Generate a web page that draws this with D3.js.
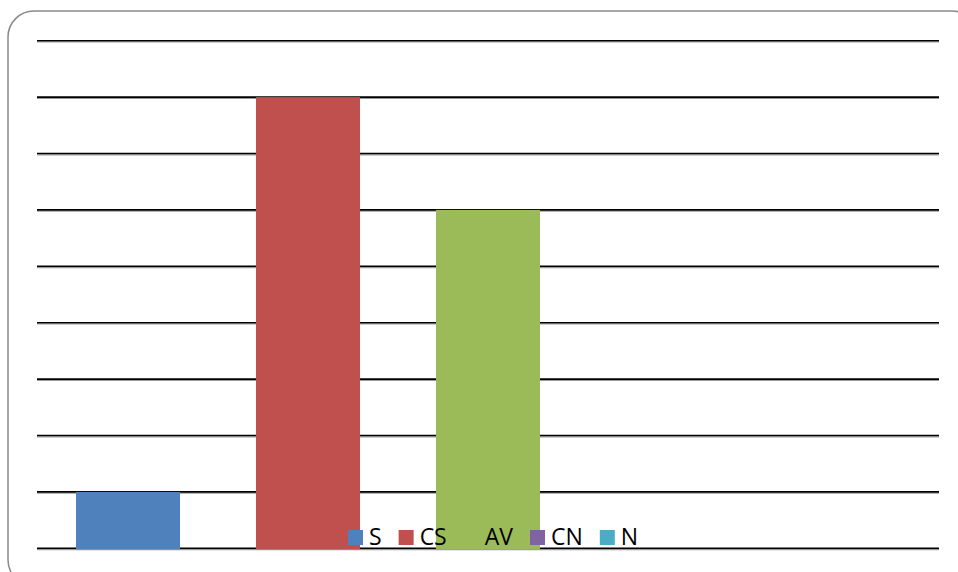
<!DOCTYPE html>
<html><head><meta charset="utf-8">
<script src="https://cdn.jsdelivr.net/npm/d3@7"></script>
<style>html,body{margin:0;padding:0;background:#fff;overflow:hidden}</style>
</head><body>
<svg id="c" width="958" height="572"></svg>
<script>
const categories = ["S", "CS", "AV", "CN", "N"];
const values = [1, 8, 6, 0, 0];
const colors = ["#4F81BD", "#C0504D", "#9BBB59", "#8064A2", "#4BACC6"];
const yTicks = [0, 1, 2, 3, 4, 5, 6, 7, 8, 9];

const svg = d3.select("#c");
svg.append("rect").attr("x", 8).attr("y", 11).attr("width", 970).attr("height", 575)
  .attr("rx", 26).attr("fill", "#fff").attr("stroke", "#8a8a8a").attr("stroke-width", 1.5);

const x = d3.scaleBand().domain(categories).range([38, 938]).paddingInner(0.422).paddingOuter(0.211);
const y = d3.scaleLinear().domain([0, 9]).range([548.3, 40.7]);

const grid = svg.append("g");
grid.selectAll("line.sh").data(yTicks).join("line").attr("class", "sh")
  .attr("x1", 37).attr("x2", 939).attr("y1", d => y(d) + 1.3).attr("y2", d => y(d) + 1.3)
  .attr("stroke", "#9a9a9a").attr("stroke-width", 1.2);
grid.selectAll("line.gl").data(yTicks).join("line").attr("class", "gl")
  .attr("x1", 37).attr("x2", 939).attr("y1", d => y(d)).attr("y2", d => y(d))
  .attr("stroke", "#000").attr("stroke-width", 1.6);

svg.append("g").selectAll("rect").data(categories.filter((d, i) => values[i] > 0)).join("rect")
  .attr("x", d => x(d)).attr("width", x.bandwidth())
  .attr("y", d => y(values[categories.indexOf(d)]))
  .attr("height", d => y(0) - y(values[categories.indexOf(d)]) + 1)
  .attr("fill", d => colors[categories.indexOf(d)]);

const lg = svg.append("g");
let cx = 348;
categories.forEach((c, i) => {
  lg.append("rect").attr("x", cx).attr("y", 530).attr("width", 15).attr("height", 15).attr("fill", colors[i]);
  const t = lg.append("text").attr("x", cx + 21).attr("y", 545)
    .attr("font-family", "Open Sans, sans-serif").attr("font-size", 23).attr("fill", "#000").text(c);
  cx += 21 + t.node().getComputedTextLength() + 17;
});
</script>
</body></html>
